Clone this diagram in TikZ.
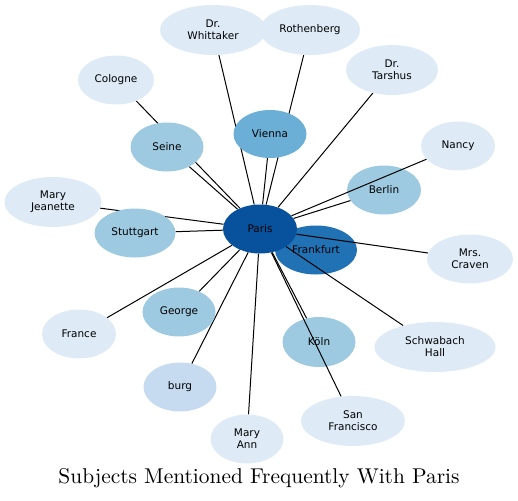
\documentclass[tikz,border=0pt]{standalone}
\usepackage{fontspec}
\usepackage{graphicx}
\newfontfamily\subjfont{DejaVu Sans}
\usepackage{tikz}
\usetikzlibrary{shapes.geometric}
\definecolor{deepblue}{RGB}{8,81,156}
\definecolor{strongblue}{RGB}{33,113,181}
\definecolor{midblue}{RGB}{107,174,214}
\definecolor{lightblue}{RGB}{158,202,225}
\definecolor{softblue}{RGB}{198,219,239}
\definecolor{paleblue}{RGB}{222,235,247}
\pgfdeclarelayer{back}
\pgfdeclarelayer{front}
\pgfsetlayers{back,main,front}

\begin{document}
\begin{tikzpicture}[x=1pt, y=-1pt,
    subj/.style={ellipse, inner sep=0pt, align=center,
      font=\subjfont\fontsize{10.5}{12}\selectfont},
    link/.style={line width=1pt}]
  \useasboundingbox (0,0) rectangle (518,500);
  % Subjects sitting under the links
  \begin{pgfonlayer}{back}
    \foreach \n/\x/\y/\w/\h/\c/\lab in {
        berlin/384/190/74/49/lightblue/Berlin,
        frankfurt/316/250/82/49/strongblue/Frankfurt,
        koln/319/342/73/50/lightblue/Köln} {
      \node[subj, fill=\c, minimum width=\w, minimum height=\h] (\n) at (\x,\y) {\lab};
    }
  \end{pgfonlayer}
  % Paris and the subjects above the links
  \begin{pgfonlayer}{front}
    \node[subj, fill=deepblue, minimum width=74, minimum height=49] (paris) at (260,229) {Paris};
    \foreach \n/\x/\y/\w/\h/\c/\lab in {
        whittaker/213/30/106/50/paleblue/{Dr.\\Whittaker},
        rothenberg/310/30/100/50/paleblue/Rothenberg,
        tarshus/392/70/92/50/paleblue/{Dr.\\Tarshus},
        cologne/116/80/76/49/paleblue/Cologne,
        nancy/458/146/74/49/paleblue/Nancy,
        vienna/270/134/73/48/midblue/Vienna,
        seine/167/147/73/49/lightblue/Seine,
        jeanette/53/202/97/50/paleblue/{Mary\\Jeanette},
        stuttgart/135/233/81/49/lightblue/Stuttgart,
        craven/470/259/86/49/paleblue/{Mrs.\\Craven},
        france/79/334/74/49/paleblue/France,
        george/179/312/73/49/lightblue/George,
        schwabach/435/347/121/50/paleblue/{Schwabach\\Hall},
        burg/180/387/73/49/softblue/burg,
        maryann/247/439/73/49/paleblue/{Mary\\Ann},
        sanfran/353/421/104/50/paleblue/{San\\Francisco}} {
      \node[subj, fill=\c, minimum width=\w, minimum height=\h] (\n) at (\x,\y) {\lab};
    }
  \end{pgfonlayer}
  % Links from Paris
  \foreach \t in {whittaker, rothenberg, tarshus, cologne, nancy, vienna, seine,
      jeanette, stuttgart, craven, france, george, schwabach, burg, maryann,
      sanfran, berlin, koln} {
    \draw[link] (paris) -- (\t);
  }
  % Title
  \node (title) at (259,478) {\scalebox{2.14}{\fontsize{10}{12}\selectfont Subjects Mentioned Frequently With Paris}};
\end{tikzpicture}
\end{document}
